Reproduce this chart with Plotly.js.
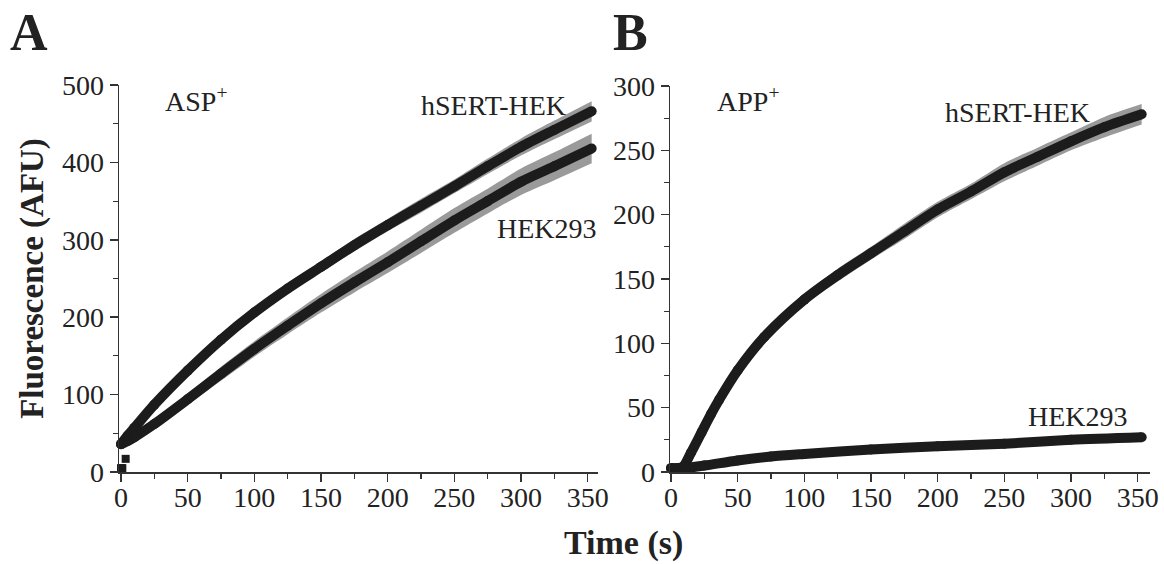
<!DOCTYPE html>
<html>
<head>
<meta charset="utf-8">
<script src="https://cdn.plot.ly/plotly-3.0.1.min.js"></script>
<style>html,body{margin:0;padding:0;background:#fff;}#chart{width:1164px;height:564px;}</style>
</head>
<body>
<div id="chart"></div>
<script>
// ---------- Panel A (ASP+) ----------
const timeA = [0, 5, 10, 25, 50, 75, 100, 125, 150, 175, 200, 225, 250, 275, 300, 325, 353];
const hsertA = [36, 47, 57, 87, 131, 171, 206, 237, 265, 293, 319, 344, 369, 395, 420, 442, 466];
const hsertA_sem = [0, 1, 2, 3, 4, 5, 6, 7, 7, 8, 8, 9, 9, 10, 11, 12, 13];
const timeA2 = [0, 5, 10, 25, 50, 75, 100, 125, 150, 175, 200, 225, 250, 275, 300, 325, 353];
const hekA = [36, 40, 45, 62, 94, 127, 159, 189, 218, 245, 271, 298, 325, 350, 375, 395, 418];
const hekA_sem = [0, 2, 3, 5, 7, 9, 10, 11, 12, 13, 14, 15, 16, 16, 17, 18, 19];
const baselineA_t = [0, 1, 3.5];
const baselineA_v = [5, 5, 17];

// ---------- Panel B (APP+) ----------
const timeB = [0, 5, 9, 15, 23, 30, 36, 50, 70, 100, 125, 150, 175, 200, 225, 250, 275, 300, 325, 353];
const hsertB = [3, 3, 4, 15, 31, 45, 56, 79, 105, 134, 153, 170, 187, 204, 218, 233, 245, 257, 268, 278];
const hsertB_sem = [0, 0, 0, 1, 1, 2, 2, 3, 3, 4, 5, 5, 6, 6, 6, 7, 7, 7, 8, 8];
const timeB2 = [0, 10, 25, 50, 75, 100, 150, 200, 250, 300, 353];
const hekB = [3, 3, 5, 9, 12, 14, 17.5, 20, 22, 25, 27];
const hekB_sem = [0, 0.5, 1, 1, 1, 1.5, 1.5, 2, 2, 2, 2];

const ticksA_y = [0, 100, 200, 300, 400, 500];
const ticksB_y = [0, 50, 100, 150, 200, 250, 300];
const ticks_x = [0, 50, 100, 150, 200, 250, 300, 350];

// ---------- geometry helpers ----------
const W = 1164, H = 564;
const L = 119, R = 14, T = 85, B = 92;
const PW = W - L - R, PH = H - T - B;
const px = x => (x - L) / PW;
const py = y => (H - B - y) / PH;

const BLACK = '#1c1c1c', GREY = '#9a9a9a';
const FONT = 'Liberation Serif, Times New Roman, Times, serif';

function band(t, v, s, xa, ya) {
  const lo = v.map((d, i) => d - s[i]);
  const hi = v.map((d, i) => d + s[i]);
  return [
    {x: t, y: lo, xaxis: xa, yaxis: ya, mode: 'lines', line: {width: 0, shape: 'spline', smoothing: 0.8, color: GREY}, hoverinfo: 'skip', cliponaxis: false},
    {x: t, y: hi, xaxis: xa, yaxis: ya, mode: 'lines', fill: 'tonexty', fillcolor: GREY, line: {width: 0, shape: 'spline', smoothing: 0.8, color: GREY}, hoverinfo: 'skip', cliponaxis: false}
  ];
}
function curve(t, v, xa, ya, name) {
  return {x: t, y: v, xaxis: xa, yaxis: ya, name: name, mode: 'lines+markers',
    line: {width: 10, color: BLACK, shape: 'spline', smoothing: 0.8},
    marker: {size: 10, color: BLACK, line: {width: 0}}, cliponaxis: false};
}

const data = [
  ...band(timeA, hsertA, hsertA_sem, 'x', 'y'),
  ...band(timeA2, hekA, hekA_sem, 'x', 'y'),
  ...band(timeB, hsertB, hsertB_sem, 'x2', 'y2'),
  ...band(timeB2, hekB, hekB_sem, 'x2', 'y2'),
  curve(timeA, hsertA, 'x', 'y', 'hSERT-HEK ASP+'),
  curve(timeA2, hekA, 'x', 'y', 'HEK293 ASP+'),
  curve(timeB, hsertB, 'x2', 'y2', 'hSERT-HEK APP+'),
  curve(timeB2, hekB, 'x2', 'y2', 'HEK293 APP+'),
  {x: baselineA_t, y: baselineA_v, xaxis: 'x', yaxis: 'y', mode: 'markers',
   marker: {symbol: 'square', size: 8, color: BLACK}, cliponaxis: false}
];

const axisCommon = {
  showline: true, linecolor: '#333', linewidth: 1.5,
  ticks: 'outside', ticklen: 8, tickwidth: 1.5, tickcolor: '#333',
  showgrid: false, zeroline: false, fixedrange: true,
  tickfont: {family: FONT, size: 28, color: '#222'}
};
const minorX = {dtick: 25, tick0: 0, ticks: 'outside', ticklen: 5, tickwidth: 1.2, tickcolor: '#333', showgrid: false};

const layout = {
  width: W, height: H,
  margin: {l: L, r: R, t: T, b: B},
  paper_bgcolor: '#fff', plot_bgcolor: '#fff',
  showlegend: false,
  font: {family: FONT, size: 28, color: '#222'},
  xaxis: Object.assign({}, axisCommon, {
    domain: [0, (598 - L) / PW], range: [-1.5, 357.75], anchor: 'y',
    tickmode: 'array', tickvals: ticks_x, ticklabelstandoff: -8,
    minor: minorX
  }),
  yaxis: Object.assign({}, axisCommon, {
    domain: [0, 1], range: [0, 500], anchor: 'x',
    tickmode: 'array', tickvals: ticksA_y,
    minor: {dtick: 50, tick0: 0, ticks: 'outside', ticklen: 5, tickwidth: 1.2, tickcolor: '#333', showgrid: false},
    title: {text: '<b>Fluorescence (AFU)</b>', font: {family: FONT, size: 33, color: '#222'}, standoff: 8}
  }),
  xaxis2: Object.assign({}, axisCommon, {
    domain: [(670 - L) / PW, 1], range: [-0.75, 359.25], anchor: 'y2',
    tickmode: 'array', tickvals: ticks_x, ticklabelstandoff: -8,
    minor: minorX
  }),
  yaxis2: Object.assign({}, axisCommon, {
    domain: [0, (472 - 86) / PH], range: [0, 300], anchor: 'x2',
    tickmode: 'array', tickvals: ticksB_y,
    minor: {dtick: 25, tick0: 0, ticks: 'outside', ticklen: 5, tickwidth: 1.2, tickcolor: '#333', showgrid: false}
  }),
  annotations: [
    {text: '<b>A</b>', x: px(8), y: py(33), xref: 'paper', yref: 'paper', xanchor: 'left', yanchor: 'middle', showarrow: false, font: {family: FONT, size: 52, color: '#222'}},
    {text: '<b>B</b>', x: px(611), y: py(33), xref: 'paper', yref: 'paper', xanchor: 'left', yanchor: 'middle', showarrow: false, font: {family: FONT, size: 52, color: '#222'}},
    {text: 'ASP<sup>+</sup>', x: px(163), y: py(100), xref: 'paper', yref: 'paper', xanchor: 'left', yanchor: 'middle', showarrow: false, font: {family: FONT, size: 28, color: '#222'}},
    {text: 'hSERT-HEK', x: px(568), y: py(105), xref: 'paper', yref: 'paper', xanchor: 'right', yanchor: 'middle', showarrow: false, font: {family: FONT, size: 28, color: '#222'}},
    {text: 'HEK293', x: px(599), y: py(228), xref: 'paper', yref: 'paper', xanchor: 'right', yanchor: 'middle', showarrow: false, font: {family: FONT, size: 28, color: '#222'}},
    {text: 'APP<sup>+</sup>', x: px(715), y: py(100), xref: 'paper', yref: 'paper', xanchor: 'left', yanchor: 'middle', showarrow: false, font: {family: FONT, size: 28, color: '#222'}},
    {text: 'hSERT-HEK', x: px(1092), y: py(112), xref: 'paper', yref: 'paper', xanchor: 'right', yanchor: 'middle', showarrow: false, font: {family: FONT, size: 28, color: '#222'}},
    {text: 'HEK293', x: px(1130), y: py(416), xref: 'paper', yref: 'paper', xanchor: 'right', yanchor: 'middle', showarrow: false, font: {family: FONT, size: 28, color: '#222'}},
    {text: '<b>Time (s)</b>', x: px(623), y: py(543), xref: 'paper', yref: 'paper', xanchor: 'center', yanchor: 'middle', showarrow: false, font: {family: FONT, size: 34, color: '#222'}}
  ]
};

Plotly.newPlot('chart', data, layout, {staticPlot: true, displayModeBar: false});
</script>
</body>
</html>
